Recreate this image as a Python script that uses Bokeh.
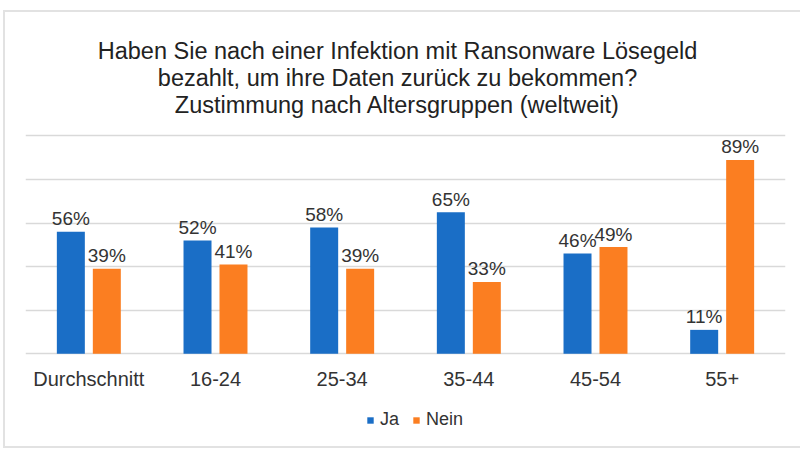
from bokeh.plotting import figure
from bokeh.models import (ColumnDataSource, FactorRange, Legend, LegendItem,
                          Label, FixedTicker, Range1d)
from bokeh.transform import dodge
from bokeh.core.properties import value
from bokeh.embed import file_html
from bokeh.resources import INLINE

# ---- data ----
categories = ["Durchschnitt", "16-24", "25-34", "35-44", "45-54", "55+"]
ja = [56, 52, 58, 65, 46, 11]
nein = [39, 41, 39, 33, 49, 89]
series = ["Ja", "Nein"]
colors = ["#1a6ec6", "#fb7e21"]
title_lines = [
    "Haben Sie nach einer Infektion mit Ransonware Lösegeld",
    "bezahlt, um ihre Daten zurück zu bekommen?",
    "Zustimmung nach Altersgruppen (weltweit)",
]
grid_ticks = [0, 20, 40, 60, 80, 100]

FONT = "Liberation Sans"
TXT = "#333333"
BORDER = "#e2e2e2"

src = ColumnDataSource(dict(
    cat=categories,
    ja=ja,
    nein=nein,
    ja_lbl=[f"{v}%" for v in ja],
    nein_lbl=[f"{v}%" for v in nein],
))

p = figure(x_range=FactorRange(*categories), y_range=Range1d(-45.3, 162.2),
           width=800, height=452, output_backend="svg", toolbar_location=None,
           min_border_left=25, min_border_right=15,
           min_border_top=0, min_border_bottom=0)
p.outline_line_color = None
p.background_fill_alpha = 0
p.border_fill_alpha = 0
p.styles = {
    "background-color": "white",
    "background-image": (f"linear-gradient({BORDER},{BORDER}), "
                         f"linear-gradient({BORDER},{BORDER}), "
                         f"linear-gradient({BORDER},{BORDER})"),
    "background-size": "797px 2px, 2px 437px, 797px 2px",
    "background-position": "3px 10px, 3px 10px, 3px 446px",
    "background-repeat": "no-repeat",
}

off = 0.142
bw = 0.221
r_ja = p.vbar(x=dodge("cat", -off, range=p.x_range), top="ja", width=bw,
              source=src, fill_color=colors[0], line_color=None)
r_nein = p.vbar(x=dodge("cat", off, range=p.x_range), top="nein", width=bw,
                source=src, fill_color=colors[1], line_color=None)

p.text(x=dodge("cat", -off, range=p.x_range), y="ja", text="ja_lbl",
       source=src, text_align="center", text_baseline="alphabetic",
       y_offset=-13, text_font=value(FONT), text_font_size="19px",
       text_color=TXT)
p.text(x=dodge("cat", off, range=p.x_range), y="nein", text="nein_lbl",
       source=src, text_align="center", text_baseline="alphabetic",
       y_offset=-13, text_font=value(FONT), text_font_size="19px",
       text_color=TXT)

# grid / axes
p.ygrid.ticker = FixedTicker(ticks=grid_ticks)
p.ygrid.grid_line_color = "#d9d9d9"
p.ygrid.grid_line_width = 1.5
p.xgrid.grid_line_color = None
p.yaxis.visible = False
ax = p.xaxis[0]
ax.fixed_location = 0
ax.axis_line_color = None
ax.major_tick_line_color = None
ax.minor_tick_line_color = None
ax.major_tick_out = 0
ax.major_tick_in = 0
ax.major_label_standoff = 14
ax.major_label_text_font = FONT
ax.major_label_text_font_size = "20px"
ax.major_label_text_color = TXT

# title lines
title_y = [138.8, 126.5, 114.3]
for line, ty in zip(title_lines, title_y):
    p.add_layout(Label(x=2.937, y=ty, text=line, text_align="center",
                       text_baseline="alphabetic", text_font=FONT,
                       text_font_size="23.5px", text_color="#222222"))

legend = Legend(items=[LegendItem(label=series[0], renderers=[r_ja]),
                       LegendItem(label=series[1], renderers=[r_nein])],
                orientation="horizontal", location=(341, 22),
                border_line_color=None, background_fill_alpha=0,
                label_text_font=FONT, label_text_font_size="18px",
                label_text_color=TXT, glyph_width=8, glyph_height=8,
                label_standoff=6, spacing=12, padding=0, margin=0)
p.add_layout(legend, "center")

open("out.html", "w").write(file_html(p, INLINE))
